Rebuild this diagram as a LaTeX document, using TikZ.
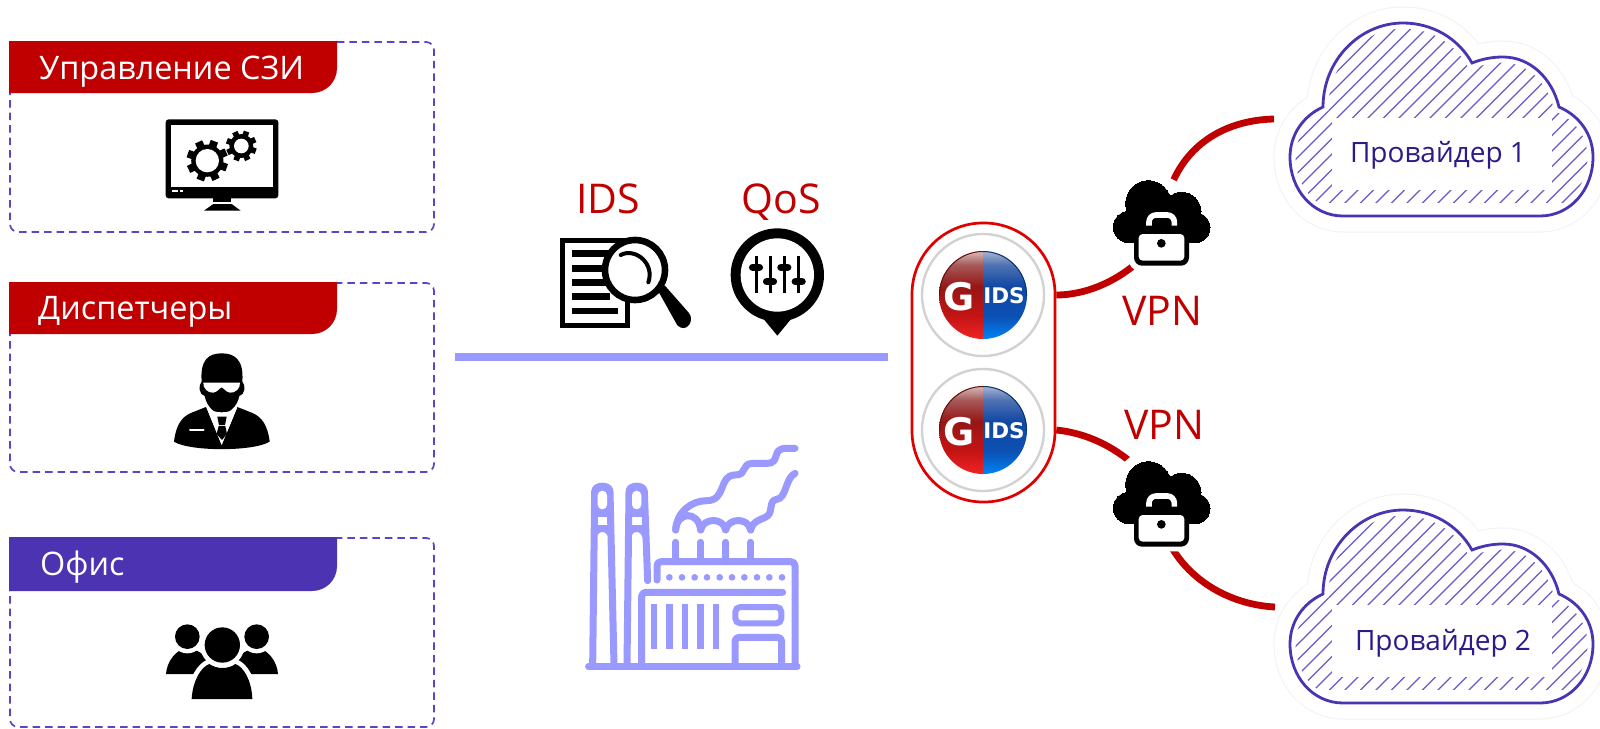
\documentclass[tikz,border=0pt]{standalone}
\usepackage{fontspec}
\setmainfont{Open Sans}
\newfontfamily\ballfont{DejaVu Sans}
\definecolor{hdrred}{HTML}{C00000}
\definecolor{hdrblue}{HTML}{4B33B2}
\definecolor{dashc}{HTML}{5A45C8}
\definecolor{busc}{HTML}{9999FF}
\definecolor{boxred}{HTML}{E00000}
\definecolor{ringc}{HTML}{D2D2D2}
\definecolor{provtxt}{HTML}{2C1A8A}
\definecolor{hatchc}{HTML}{6A58C8}
\definecolor{haloc}{HTML}{F2F2F2}
\definecolor{ra}{HTML}{F02424}\definecolor{rb}{HTML}{C41414}\definecolor{rc}{HTML}{961616}\definecolor{rd}{HTML}{A65858}\definecolor{re}{HTML}{D6BCBC}
\definecolor{ba}{HTML}{0084F4}\definecolor{bb}{HTML}{0C50B4}\definecolor{bc}{HTML}{1248A4}\definecolor{bd}{HTML}{4E72B2}\definecolor{be}{HTML}{A8B6D4}
\pgfdeclareverticalshading{ballred}{100bp}{color(0bp)=(ra);color(25bp)=(ra);color(38bp)=(rb);color(55bp)=(rc);color(67bp)=(rd);color(75bp)=(re);color(100bp)=(re)}
\pgfdeclareverticalshading{ballblue}{100bp}{color(0bp)=(ba);color(25bp)=(ba);color(38bp)=(bb);color(55bp)=(bc);color(67bp)=(bd);color(75bp)=(be);color(100bp)=(be)}
\tikzset{
  zoomat/.style 2 args={x=.33333pt,y=-.33333pt,shift={(#1pt,-#2pt)}},
  hdrtext/.style={anchor=base west,inner sep=0pt,text=white,font=\fontsize{32.4}{40}\selectfont},
  zonebox/.style={draw=dashc,line width=1.7pt,dash pattern=on 7.5pt off 5pt,rounded corners=8pt},
  redlabel/.style={anchor=base,inner sep=0pt,text=hdrred,font=\fontsize{41}{48}\selectfont},
  provlabel/.style={anchor=base,inner sep=0pt,text=provtxt,font=\fontsize{28}{34}\selectfont},
  busline/.style={draw=busc,line width=8.5pt},
  vpnlink/.style={draw=hdrred,line width=6.8pt},
  fact/.style={draw=busc,line width=7pt,line cap=round,line join=round},
  ballring/.style={circle,draw=ringc,line width=2.4pt,fill=white,minimum size=122pt,inner sep=0pt},
  lockport/.style={circle,minimum size=92pt,inner sep=0pt,outer sep=0pt},
}
\newcommand{\myGear}[4]{% cx cy outer hole (zoom units)
  \fill[black] (#1,#2) circle ({#3*.78});
  \foreach \a in {0,45,...,315}{
    \draw[black,line width=#3*.125pt] ({#1+#3*.6*cos(\a+20)},{#2+#3*.6*sin(\a+20)}) -- ({#1+#3*cos(\a+20)},{#2+#3*sin(\a+20)});
  }
  \fill[white] (#1,#2) circle (#4);
}
\newcommand{\myCloudPath}{(1323,107) .. controls (1323,60) and (1360,23) .. (1403,23) .. controls (1432,23) and (1458,38) .. (1472,63) .. controls (1482,59) and (1492,57) .. (1503,57) .. controls (1530,57) and (1552,78) .. (1559,107) .. controls (1580,116) and (1593,135) .. (1593,157) .. controls (1593,190) and (1570,216) .. (1540,216) -- (1343,216) .. controls (1313,216) and (1290,190) .. (1290,157) .. controls (1290,135) and (1303,116) .. (1323,107) -- cycle}
\newcommand{\myCloud}[1]{% vertical offset
  \begin{scope}[shift={(0pt,-#1pt)}]
    \draw[haloc,line width=33pt,line join=round] \myCloudPath;
    \draw[white,fill=white,line width=31pt,line join=round] \myCloudPath;
    \begin{scope}
      \clip \myCloudPath;
      \foreach \k in {-12,...,30}{
        \draw[hatchc,line width=1.3pt] ({1424+15.5*\k},0) -- ({1424+15.5*\k-300},300);
      }
      \fill[white] (1332,118) rectangle (1552,190);
      \fill[white] (1280,203) rectangle (1600,220);
      \draw[white,line width=11pt] \myCloudPath;
    \end{scope}
    \draw[hdrblue,line width=2.8pt] \myCloudPath;
  \end{scope}
}
\newcommand{\myLock}[2]{% zoom origin
  \begin{scope}[zoomat={#1}{#2}]
    \foreach \c/\w in {white/20pt,black/0pt}{
      \path[draw=\c,fill=\c,line width=\w] (207,411) circle (47);
      \path[draw=\c,fill=\c,line width=\w] (265,340) circle (68);
      \path[draw=\c,fill=\c,line width=\w] (365,365) circle (58);
      \path[draw=\c,fill=\c,line width=\w] (405,413) circle (45);
      \path[draw=\c,fill=\c,line width=\w] (207,380) rectangle (405,458);
    }
    \fill[white,rounded corners=9pt] (208,458) rectangle (401,541);
    \fill[black,rounded corners=8pt] (222,418) rectangle (387,527);
    \fill[white,rounded corners=4pt] (236,432) rectangle (373,512);
    \fill[black] (304,460) circle (13);
    \draw[white,line width=5.6pt,rounded corners=7pt] (267,407) -- (267,375) -- (343,375) -- (343,407);
  \end{scope}
}
\newcommand{\myBall}[2]{%
  \begin{scope}
    \clip (#1,#2) circle (44);
    \path[shading=ballred] ({#1-44},{#2-44}) rectangle (#1,{#2+44});
    \path[shading=ballblue] (#1,{#2-44}) rectangle ({#1+44},{#2+44});
  \end{scope}
  \begin{scope}\clip ({#1-46},{#2-46}) rectangle (#1,#2);\draw[rc!70!black,line width=1pt] (#1,#2) circle (43.5);\end{scope}
  \begin{scope}\clip (#1,{#2-46}) rectangle ({#1+46},#2);\draw[bc!70!black,line width=1pt] (#1,#2) circle (43.5);\end{scope}
}
\begin{document}
\begin{tikzpicture}[x=1pt,y=-1pt]
\useasboundingbox (0,0) rectangle (1600,728);
\fill[white] (0,0) rectangle (1600,728);

% ---- left zones
\foreach \t/\b/\hb/\c in {42/232/93/hdrred,283/472/334/hdrred,538/727/591/hdrblue}{
  \draw[zonebox] (10,\t) rectangle (434,\b);
  \fill[\c] (9,{\t-1}) -- (337,{\t-1}) -- (337,{\hb-25}) .. controls (337,{\hb-11}) and (326,\hb) .. (312,\hb) -- (9,\hb) -- cycle;
}
\node[hdrtext] (hdrA) at (39,79) {Управление СЗИ};
\node[hdrtext] (hdrB) at (38,319) {Диспетчеры};
\node[hdrtext] (hdrC) at (40,575) {Офис};

% monitor
\begin{scope}[zoomat={0}{20}]
  \fill[black,rounded corners=3pt] (497,298) rectangle (835,535);
  \fill[white] (513,315) rectangle (818,502);
  \fill[white] (515,511) rectangle (535,517);
  \fill[white] (541,511) rectangle (548,517);
  \fill[black] (640,535) rectangle (692,546);
  \fill[black] (612,572) -- (640,552) -- (695,552) -- (722,572) -- cycle;
  \myGear{622}{422}{62}{35}
  \myGear{724}{378}{46}{22}
\end{scope}

% agent
\begin{scope}[zoomat={0}{270}]
  \fill[black] (605,335) .. controls (600,270) and (625,250) .. (665,250) .. controls (705,250) and (732,270) .. (727,335) .. controls (738,345) and (735,375) .. (718,378) .. controls (712,410) and (685,432) .. (665,432) .. controls (645,432) and (620,410) .. (614,378) .. controls (597,375) and (594,345) .. (605,335) -- cycle;
  \fill[white] (610,338) -- (720,338) .. controls (722,355) and (705,370) .. (690,368) .. controls (678,366) and (672,355) .. (665,352) .. controls (658,355) and (652,366) .. (640,368) .. controls (625,370) and (608,355) .. (610,338) -- cycle;
  \fill[black] (522,515) .. controls (528,465) and (545,440) .. (575,428) -- (618,411) -- (665,525) -- (712,411) -- (755,428) .. controls (785,440) and (803,465) .. (809,515) .. controls (760,545) and (570,545) .. (522,515) -- cycle;
  \fill[white] (620,412) .. controls (640,432) and (690,432) .. (712,412) -- (665,525) -- cycle;
  \fill[black] (652,440) -- (680,440) -- (675,465) -- (657,465) -- cycle;
  \fill[black] (656,468) -- (676,468) -- (681,492) -- (666,510) -- (650,492) -- cycle;
  \draw[white,line width=2pt,line cap=round] (570,481) -- (611,481);
\end{scope}

% people
\begin{scope}[zoomat={0}{520}]
  \fill[black] (498,462) .. controls (500,425) and (530,385) .. (562,385) .. controls (600,385) and (640,425) .. (640,462) -- cycle;
  \fill[black] (834,462) .. controls (832,425) and (802,385) .. (770,385) .. controls (732,385) and (692,425) .. (692,462) -- cycle;
  \fill[white] (562,350) circle (50);
  \fill[black] (562,350) circle (37);
  \fill[white] (770,350) circle (50);
  \fill[black] (770,350) circle (37);
  \path[draw=white,line width=9.4pt,line join=round,fill=white] (575,537) .. controls (578,480) and (605,440) .. (628,432) .. controls (650,448) and (685,448) .. (706,432) .. controls (730,440) and (755,480) .. (757,537) -- cycle;
  \fill[black] (575,537) .. controls (578,480) and (605,440) .. (628,432) .. controls (650,448) and (685,448) .. (706,432) .. controls (730,440) and (755,480) .. (757,537) -- cycle;
  \fill[white] (667,375) circle (67);
  \fill[black] (667,375) circle (53);
\end{scope}

% ---- bus
\coordinate (busL) at (455,357);
\coordinate (busR) at (888,357);
\draw[busline] (busL) -- (busR);

% ---- IDS / QoS
\node[redlabel] (ids) at (608,213) {IDS};
\node[redlabel] (qos) at (781,213) {QoS};
\begin{scope}[zoomat={530}{170}]
  \draw[black,line width=5.5pt] (98,211) rectangle (292,467);
  \foreach \yy in {250,295,337,380}{\fill[black] (125,{\yy-10}) rectangle (240,{\yy+10});}
  \fill[black] (125,413) rectangle (265,433);
  \path[draw=black,fill=white,line width=6.6pt] (315,300) circle (90);
  \fill[black] (385,364) -- (404,346) -- (476,428) .. controls (496,450) and (470,492) .. (442,466) -- cycle;
  \draw[black,line width=4pt,line cap=round] (272,255) .. controls (315,232) and (375,280) .. (355,337);
  % pin
  \fill[black] (742,315) circle (140);
  \fill[black] (695,440) -- (742,497) -- (789,440) -- cycle;
  \fill[white] (742,315) circle (110);
  \foreach \xx/\yy in {678/292,720/335,763/292,806/335}{
    \draw[black,line width=3pt] (\xx,258) -- (\xx,370);
    \draw[black,line width=7.5pt,line cap=round] ({\xx-10},\yy) -- ({\xx+10},\yy);
  }
\end{scope}

% ---- factory
\begin{scope}[zoomat={560}{430}]
  \draw[fact] (98,705) -- (104,185) .. controls (104,163) and (150,163) .. (150,185) -- (162,705);
  \fill[busc] (104,180) rectangle (150,262);
  \fill[white,rounded corners=4.6pt] (113,182) rectangle (141,238);
  \fill[busc] (102,285) -- (152,285) -- (153,340) -- (146,330) .. controls (144,298) and (110,298) .. (108,330) -- (101,340) -- cycle;
  \draw[fact] (201,705) -- (207,185) .. controls (207,163) and (253,163) .. (253,185) -- (263,452);
  \fill[busc] (207,180) rectangle (253,262);
  \fill[white,rounded corners=4.6pt] (216,182) rectangle (244,238);
  \fill[busc] (205,285) -- (255,285) -- (256,340) -- (249,330) .. controls (247,298) and (213,298) .. (211,330) -- (204,340) -- cycle;
  \draw[fact,rounded corners=4pt] (291,450) -- (291,395) -- (705,395) -- (705,705);
  \foreach \xx in {328,366,404,441,479,516,553,591,628,666}{\fill[busc] (\xx,442) circle (10);}
  \draw[fact,rounded corners=4pt] (245,705) -- (245,487) -- (668,487);
  \foreach \xx in {282,329,375,422,468}{\fill[busc] ({\xx-10},522) rectangle ({\xx+10},658);}
  \draw[busc,line width=6pt,rounded corners=5pt] (526,531) rectangle (664,580);
  \draw[fact,line cap=butt,rounded corners=4pt] (525,705) -- (525,622) -- (665,622) -- (665,705);
  \foreach \xx in {347,422,497,572}{\draw[fact] (\xx,337) -- (\xx,385);}
  \draw[fact] (347,300) .. controls (350,245) and (415,240) .. (422,300);
  \draw[fact] (422,300) .. controls (430,262) and (490,262) .. (497,300);
  \draw[fact] (497,300) .. controls (505,262) and (565,262) .. (572,300);
  \draw[fact] (572,300) .. controls (578,270) and (610,268) .. (622,258) .. controls (640,245) and (625,212) .. (650,208) .. controls (680,205) and (675,145) .. (705,130);
  \draw[fact] (347,300) .. controls (350,245) and (395,212) .. (440,212) .. controls (500,212) and (475,135) .. (525,135) .. controls (565,135) and (540,100) .. (580,100) -- (620,100) .. controls (665,100) and (630,55) .. (680,55) -- (705,55);
  \draw[busc,line width=6.5pt,line cap=round] (85,710) -- (712,710);
\end{scope}

% ---- gateway box
\node[draw=boxred,line width=2.7pt,fill=white,rounded corners=71pt,minimum width=143pt,minimum height=279pt,inner sep=0pt] (gbox) at (983.5,362.5) {};
\node[ballring] (ballA) at (983,295) {};
\node[ballring] (ballB) at (983,430) {};
\myBall{983}{295}
\myBall{983}{430}
\foreach \n/\yy in {A/295,B/430}{
  \node[inner sep=0pt,text=white,font=\ballfont\bfseries\fontsize{38}{40}\selectfont] (gl\n) at (959,{\yy+2}) {G};
  \node[inner sep=0pt,text=white,font=\ballfont\bfseries\fontsize{21.5}{24}\selectfont] (idl\n) at (1004,{\yy+1}) {IDS};
}

% ---- VPN links
\node[lockport] (lockA) at (1161,224) {};
\node[lockport] (lockB) at (1161,505) {};
\coordinate (provAin) at (1274,119);
\coordinate (provBin) at (1275,607);
\draw[vpnlink] (ballA -| gbox.east) .. controls (1085,295) and (1115,282) .. (lockA.-122);
\draw[vpnlink] (lockA.74) .. controls (1192,140) and (1230,120) .. (provAin);
\draw[vpnlink] (ballB -| gbox.east) .. controls (1085,433) and (1112,445) .. (lockB.123);
\draw[vpnlink] (lockB.-75) .. controls (1195,585) and (1235,605) .. (provBin);
\node[redlabel] (vpnA) at (1162.5,325) {VPN};
\node[redlabel] (vpnB) at (1164.5,439) {VPN};
\myLock{1060}{90}
\myLock{1060}{371}

% ---- providers
\myCloud{0}
\myCloud{487}
\node[provlabel] (provA) at (1438,162) {Провайдер 1};
\node[provlabel] (provB) at (1443,650) {Провайдер 2};
\end{tikzpicture}
\end{document}
